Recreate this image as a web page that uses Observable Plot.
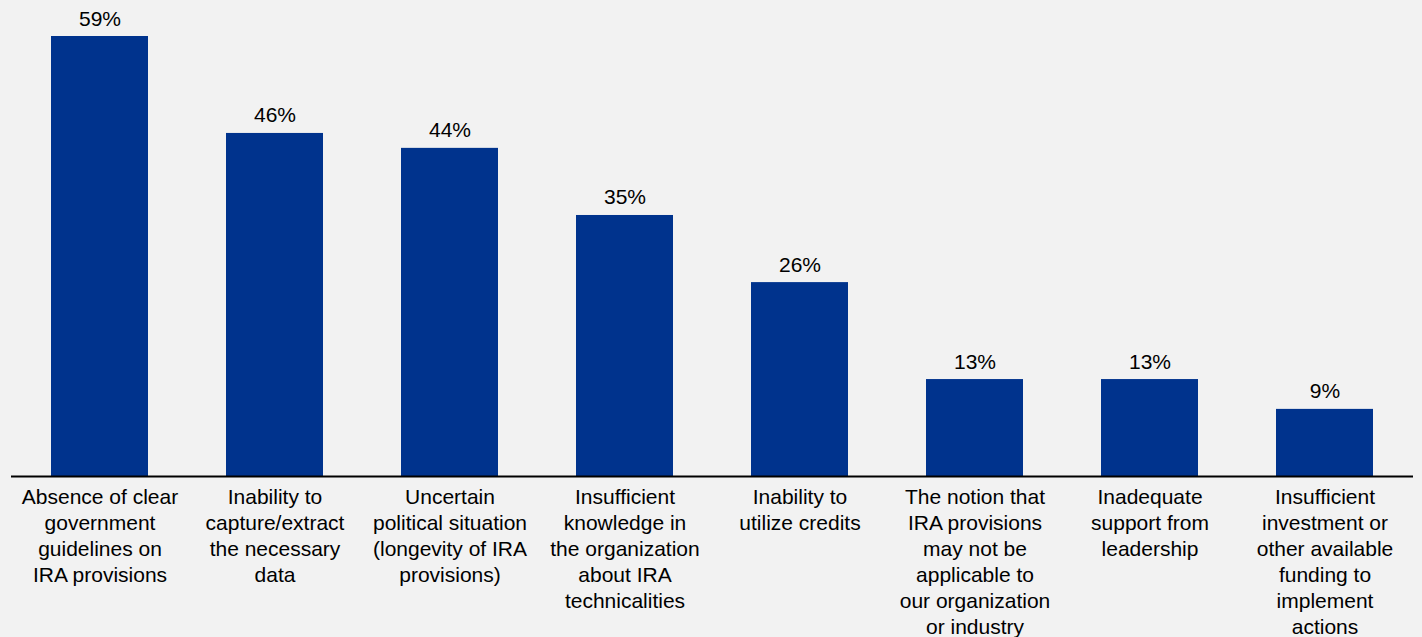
<!DOCTYPE html>
<html>
<head>
<meta charset="utf-8">
<script src="https://cdn.jsdelivr.net/npm/d3@7"></script>
<script src="https://cdn.jsdelivr.net/npm/@observablehq/plot@0.6"></script>
<style>
  html, body { margin: 0; padding: 0; background: #f2f2f2; }
  #chart svg { display: block; }
</style>
</head>
<body>
<div id="chart"></div>
<script>
// Barriers to taking advantage of IRA provisions (share of respondents)
const categories = [
  "Absence of clear\ngovernment\nguidelines on\nIRA provisions",
  "Inability to\ncapture/extract\nthe necessary\ndata",
  "Uncertain\npolitical situation\n(longevity of IRA\nprovisions)",
  "Insufficient\nknowledge in\nthe organization\nabout IRA\ntechnicalities",
  "Inability to\nutilize credits",
  "The notion that\nIRA provisions\nmay not be\napplicable to\nour organization\nor industry",
  "Inadequate\nsupport from\nleadership",
  "Insufficient\ninvestment or\nother available\nfunding to\nimplement\nactions"
];
const values = [59, 46, 44, 35, 26, 13, 13, 9];

const rows = categories.map((category, i) => ({category, value: values[i]}));

const fontFamily = "'Liberation Sans', Arial, Helvetica, sans-serif";

const chart = Plot.plot({
  width: 1422,
  height: 637,
  marginTop: 36,
  marginBottom: 161,
  marginLeft: 11,
  marginRight: 9,
  style: {background: "#f2f2f2", fontFamily, color: "#000"},
  x: {domain: categories, paddingInner: 0.447, paddingOuter: 0.22, axis: null},
  y: {domain: [0, 59], axis: null},
  marks: [
    Plot.barY(rows, {x: "category", y: "value", fill: "#00338D"}),
    Plot.ruleY([0], {stroke: "#000", strokeWidth: 2}),
    Plot.text(rows, {
      x: "category", y: "value",
      text: d => `${d.value}%`,
      lineAnchor: "bottom", dy: -11,
      fontSize: 21, fill: "#000"
    }),
    Plot.text(rows, {
      x: "category", y: () => 0,
      text: "category",
      lineAnchor: "top", lineHeight: 1.238, dy: 9,
      fontSize: 21, fill: "#000"
    })
  ]
});

document.getElementById("chart").append(chart);
</script>
</body>
</html>
